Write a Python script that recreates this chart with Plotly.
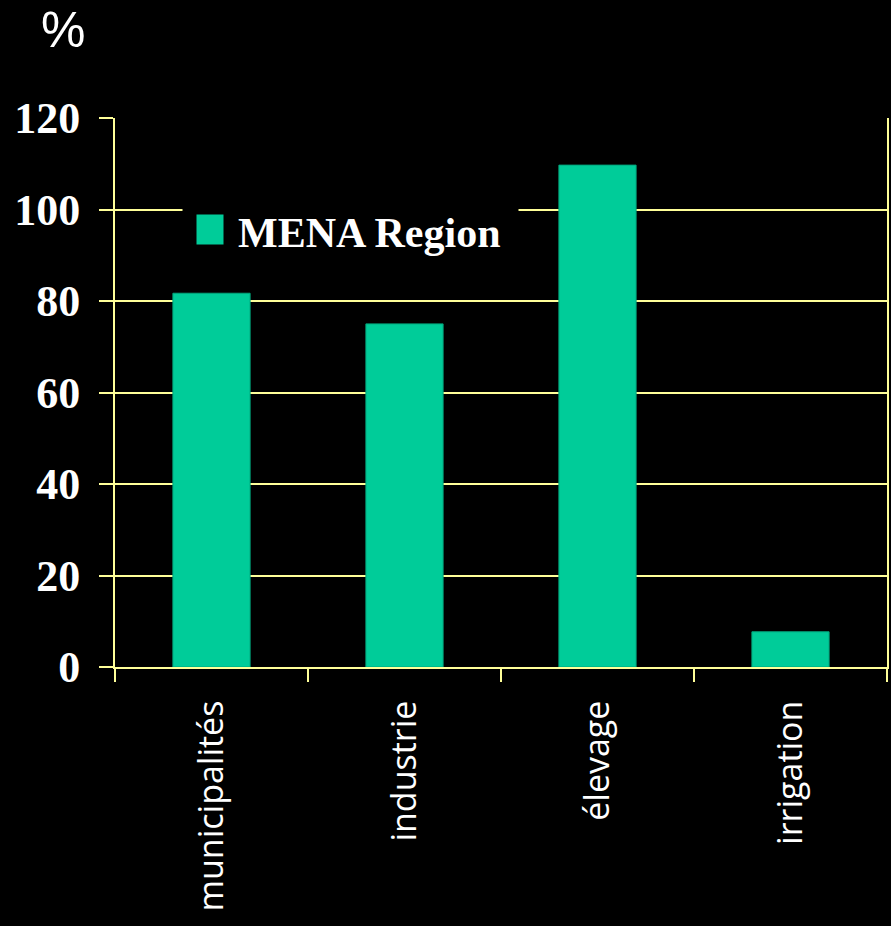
import plotly.graph_objects as go

categories = ["municipalités", "industrie", "élevage", "irrigation"]
values = [81.7, 75.0, 109.7, 7.7]
series_name = "MENA Region"
y_ticks = [0, 20, 40, 60, 80, 100, 120]

TEAL = "#00CC99"
YEL = "#FFFF99"

fig = go.Figure()
fig.add_trace(go.Bar(
    x=categories, y=values, name=series_name, width=0.4,
    marker=dict(color=TEAL, line=dict(color="#00A67C", width=1)),
    showlegend=False,
))

fig.update_layout(
    width=891, height=926,
    margin=dict(l=115, r=4, t=118, b=259, pad=0, autoexpand=False),
    paper_bgcolor="black", plot_bgcolor="black",
    showlegend=False,
    xaxis=dict(
        type="category", tickson="boundaries", ticks="outside", ticklen=13,
        tickwidth=2, tickcolor=YEL, showline=True, linecolor=YEL, linewidth=2,
        showgrid=False, tickangle=-90, ticklabelstandoff=18, automargin=False,
        tickfont=dict(family="Open Sans", size=34, color="white"),
    ),
    yaxis=dict(
        range=[0, 120], tickvals=y_ticks, ticks="outside", ticklen=14,
        tickwidth=2, tickcolor=YEL, showline=True, linecolor=YEL, linewidth=2,
        mirror=True, showgrid=True, gridcolor=YEL, gridwidth=2, zeroline=False,
        ticklabelstandoff=10, automargin=False,
        tickfont=dict(family="Liberation Serif", size=44, color="white", weight="bold"),
    ),
    annotations=[
        dict(text="%", xref="paper", yref="paper", x=-0.068, y=1.2149,
             xanchor="center", yanchor="top", showarrow=False,
             font=dict(family="Liberation Sans", size=50, color="white")),
        # black legend box covering the gridlines
        dict(text=" ", xref="paper", yref="paper",
             x=0.0868, y=0.79, xanchor="left", yanchor="middle", showarrow=False,
             width=335, height=66, bgcolor="black", borderpad=0,
             font=dict(size=10)),
        # legend swatch
        dict(text=" ", xref="paper", yref="paper",
             x=0.105, y=0.797, xanchor="left", yanchor="middle", showarrow=False,
             width=26, height=29, bgcolor=TEAL, borderpad=0,
             font=dict(size=10)),
        # legend text
        dict(text="<b>" + series_name + "</b>", xref="paper", yref="paper",
             x=0.158, y=0.79, xanchor="left", yanchor="middle", showarrow=False,
             borderpad=0,
             font=dict(family="Liberation Serif", size=42, color="white")),
    ],
)

fig.write_html(
    "out.html",
    config={"displayModeBar": False},
    post_script="document.body.style.margin='0';document.body.style.background='black';",
)
